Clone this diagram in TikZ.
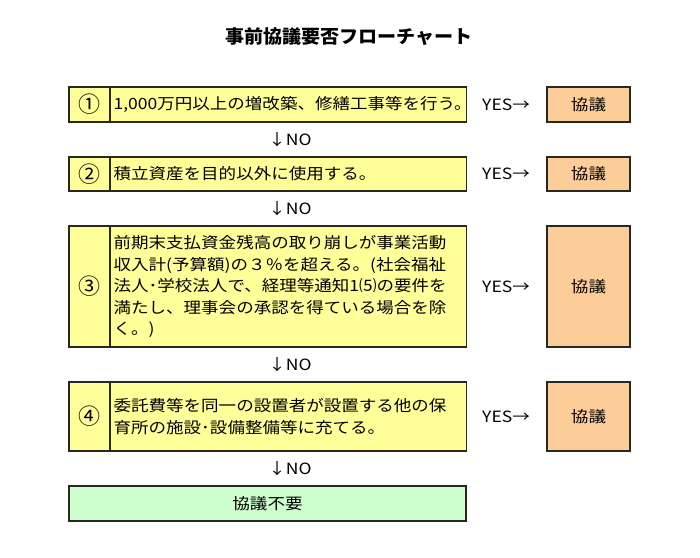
\documentclass[tikz,border=0pt]{standalone}
\usepackage{fontspec}
\setmainfont{Noto Sans CJK JP}[FakeStretch=1.13]
\newfontfamily\titlefont{Noto Sans CJK JP}[FakeStretch=1.03]
\newfontfamily\numfont{Noto Sans CJK JP}
\definecolor{qyellow}{RGB}{255,255,153}
\definecolor{qpeach}{RGB}{252,204,153}
\definecolor{qgreen}{RGB}{204,255,204}
\definecolor{edge}{RGB}{40,40,30}
\begin{document}
\begin{tikzpicture}[x=1pt,y=-1pt,
  bodyfont/.style={font=\fontsize{15.5}{21.5}\selectfont},
  numbox/.style={draw=edge, line width=1.3pt, fill=qyellow, minimum width=41pt, minimum height=#1, inner sep=0pt, font=\numfont\fontsize{22}{24}\selectfont},
  txtbox/.style={draw=edge, line width=1.3pt, fill=qyellow, anchor=west, text width=350pt, inner xsep=3pt, inner ysep=0pt, minimum height=#1, align=left, bodyfont},
  kbox/.style={draw=edge, line width=1.3pt, fill=qpeach, minimum width=83pt, minimum height=#1, inner sep=0pt, bodyfont},
  endbox/.style={draw=edge, line width=1.3pt, fill=qgreen, minimum width=397pt, minimum height=35pt, inner sep=0pt, bodyfont},
  yeslbl/.style={inner sep=0pt, bodyfont},
  nolbl/.style={inner sep=0pt, bodyfont}]
\useasboundingbox (0,0) rectangle (700,557);

\node[inner sep=0pt, font=\titlefont\bfseries\fontsize{18.5}{20}\selectfont] (title) at (349,37) {事前協議要否フローチャート};

% row 1
\node[numbox=35pt] (n1) at (89.5,104.5) {①};
\node[txtbox=35pt] (t1) at (110,104.5) {1,000万円以上の増改築、修繕工事等を行う。};
\node[yeslbl] (y1) at (506,104.5) {YES→};
\node[kbox=35pt] (k1) at (588.5,104.5) {協議};
\node[nolbl] (no1) at (290,139.5) {↓NO};

% row 2
\node[numbox=34pt] (n2) at (89.5,174) {②};
\node[txtbox=34pt] (t2) at (110,174) {積立資産を目的以外に使用する。};
\node[yeslbl] (y2) at (506,174) {YES→};
\node[kbox=34pt] (k2) at (588.5,174) {協議};
\node[nolbl] (no2) at (290,208.5) {↓NO};

% row 3
\node[numbox=121pt] (n3) at (89.5,286.5) {③};
\node[txtbox=121pt] (t3) at (110,286.5) {前期末支払資金残高の取り崩しが事業活動\\収入計(予算額)の３％を超える。(社会福祉\\法人･学校法人で、経理等通知1⑸の要件を\\満たし、理事会の承認を得ている場合を除\\く。)};
\node[yeslbl] (y3) at (506,286.5) {YES→};
\node[kbox=121pt] (k3) at (588.5,286.5) {協議};
\node[nolbl] (no3) at (290,364.5) {↓NO};

% row 4
\node[numbox=69pt] (n4) at (89.5,416.5) {④};
\node[txtbox=69pt] (t4) at (110,416.5) {委託費等を同一の設置者が設置する他の保\\育所の施設･設備整備等に充てる。};
\node[yeslbl] (y4) at (506,416.5) {YES→};
\node[kbox=69pt] (k4) at (588.5,416.5) {協議};
\node[nolbl] (no4) at (290,468.5) {↓NO};

% end
\node[endbox] (e) at (267.5,503.5) {協議不要};
\end{tikzpicture}
\end{document}
